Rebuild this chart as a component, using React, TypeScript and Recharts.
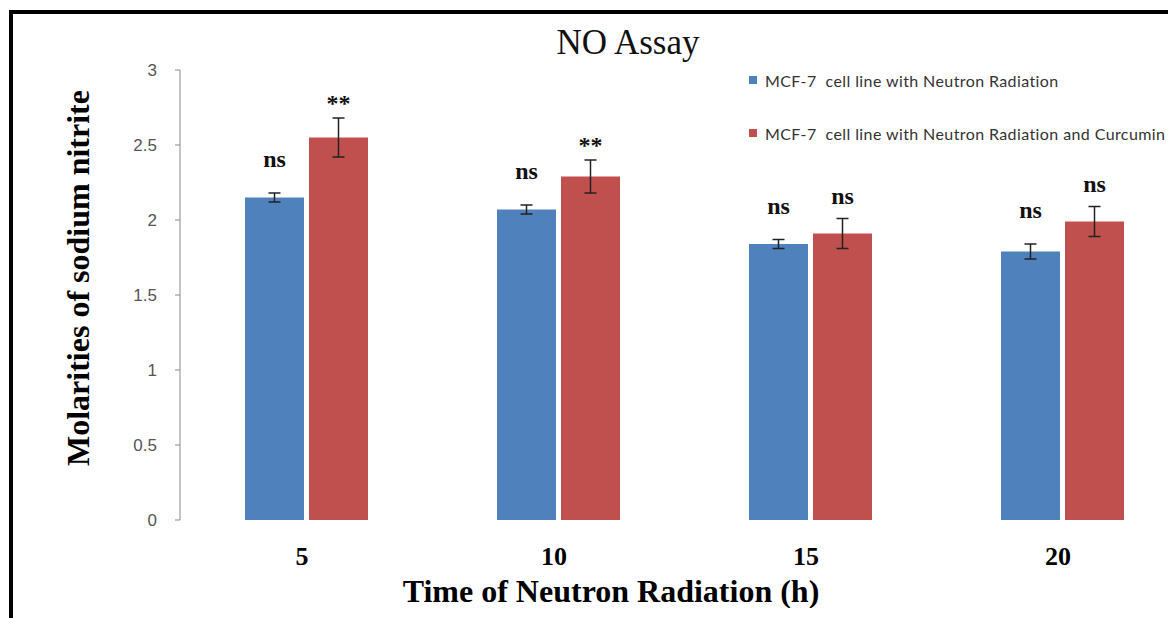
import { BarChart, Bar, XAxis, YAxis, ErrorBar, LabelList, Label } from 'recharts'

const categories = ['5', '10', '15', '20']
const radiationOnly = [2.15, 2.07, 1.84, 1.79]
const radiationOnlyErr = [0.03, 0.03, 0.03, 0.05]
const withCurcumin = [2.55, 2.29, 1.91, 1.99]
const withCurcuminErr = [0.13, 0.11, 0.1, 0.1]
const radiationOnlySig = ['ns', 'ns', 'ns', 'ns']
const withCurcuminSig = ['**', '**', 'ns', 'ns']
const yTicks = [0, 0.5, 1, 1.5, 2, 2.5, 3]

const seriesNames = [
  'MCF-7  cell line with Neutron Radiation',
  'MCF-7  cell line with Neutron Radiation and Curcumin',
]
const BLUE = '#4F81BD'
const RED = '#C0504D'
const SERIF = "'Liberation Serif', 'Times New Roman', serif"

const data = categories.map((c, i) => ({
  time: c,
  rad: radiationOnly[i],
  radErr: radiationOnlyErr[i],
  radSig: radiationOnlySig[i],
  cur: withCurcumin[i],
  curErr: withCurcuminErr[i],
  curSig: withCurcuminSig[i],
}))

// significance marks sit just above the top of the error bar
const sigLabel = (vals: number[], errs: number[], gap: number) => (props: any) => {
  const { x, y, width, height, index, value } = props
  const pxPerUnit = height / vals[index]
  const errTop = y - errs[index] * pxPerUnit
  const lift = value === '**' ? 7 : gap
  return (
    <text
      x={x + width / 2}
      y={errTop - lift}
      textAnchor="middle"
      fontFamily={SERIF}
      fontWeight="bold"
      fontSize={24}
      fill="#111"
    >
      {value}
    </text>
  )
}

const XTick = (props: any) => {
  const { x, y, payload } = props
  return (
    <text x={x - 4} y={y + 45} textAnchor="middle" fontFamily={SERIF} fontWeight="bold" fontSize={26} fill="#000">
      {payload.value}
    </text>
  )
}

export default function App() {
  return (
    <div
      style={{
        position: 'relative',
        width: 1160,
        height: 610,
        overflow: 'hidden',
        background: '#fff',
      }}
    >
      <style>{'body { margin: 8px 8px 0 8px; overflow: hidden; }'}</style>
      <div
        style={{
          position: 'absolute',
          left: 1,
          top: 2,
          width: 2000,
          height: 2000,
          border: '4px solid #000',
        }}
      />
      <div
        style={{
          position: 'absolute',
          left: 0,
          top: 17,
          width: 1240,
          textAlign: 'center',
          fontFamily: SERIF,
          fontSize: 35,
          color: '#111',
          lineHeight: '35px',
          zIndex: 2,
        }}
      >
        NO Assay
      </div>
      <div
        style={{
          position: 'absolute',
          left: 741,
          top: 62,
          fontFamily: 'Lato, sans-serif',
          fontSize: 16,
          letterSpacing: 0.4,
          color: '#333',
          zIndex: 2,
        }}
      >
        {seriesNames.map((n, i) => (
          <div key={n} style={{ display: 'flex', alignItems: 'center', height: 20, marginBottom: i === 0 ? 33 : 0 }}>
            <span style={{ width: 8, height: 8, background: i === 0 ? BLUE : RED, marginRight: 8 }}></span>
            <span style={{ whiteSpace: 'pre' }}>{n}</span>
          </div>
        ))}
      </div>
      <BarChart
        width={1200}
        height={600}
        data={data}
        margin={{ top: 62, right: 20, left: 0, bottom: 0 }}
        barSize={59}
        barGap={5}
      >
        <XAxis
          dataKey="time"
          axisLine={false}
          tickLine={false}
          tickSize={0}
          tickMargin={0}
          tick={<XTick />}
          height={88}
        >
          <Label
            content={() => (
              <text x={603} y={594} textAnchor="middle" fontFamily={SERIF} fontWeight="bold" fontSize={32} fill="#000">
                Time of Neutron Radiation (h)
              </text>
            )}
          />
        </XAxis>
        <YAxis
          width={172}
          domain={[0, 3]}
          ticks={yTicks}
          interval={0}
          axisLine={{ stroke: '#8a8a8a' }}
          tickLine={{ stroke: '#8a8a8a' }}
          tickSize={5}
          tickMargin={18}
          tickFormatter={(v) => String(v)}
          tick={{ fontFamily: "'Liberation Sans', Arial, sans-serif", fontSize: 17, fill: '#555' }}
        >
          <Label
            content={() => (
              <text
                x={81}
                y={270}
                transform="rotate(-90 81 270)"
                textAnchor="middle"
                fontFamily={SERIF}
                fontWeight="bold"
                fontSize={32}
                fill="#000"
              >
                Molarities of sodium nitrite
              </text>
            )}
          />
        </YAxis>
        <Bar dataKey="rad" name={seriesNames[0]} fill={BLUE} isAnimationActive={false}>
          <ErrorBar dataKey="radErr" width={6} stroke="#222" strokeWidth={1.5} direction="y" />
          <LabelList dataKey="radSig" content={sigLabel(radiationOnly, radiationOnlyErr, 26)} />
        </Bar>
        <Bar dataKey="cur" name={seriesNames[1]} fill={RED} isAnimationActive={false}>
          <ErrorBar dataKey="curErr" width={6} stroke="#222" strokeWidth={1.5} direction="y" />
          <LabelList dataKey="curSig" content={sigLabel(withCurcumin, withCurcuminErr, 15)} />
        </Bar>
      </BarChart>
    </div>
  )
}
